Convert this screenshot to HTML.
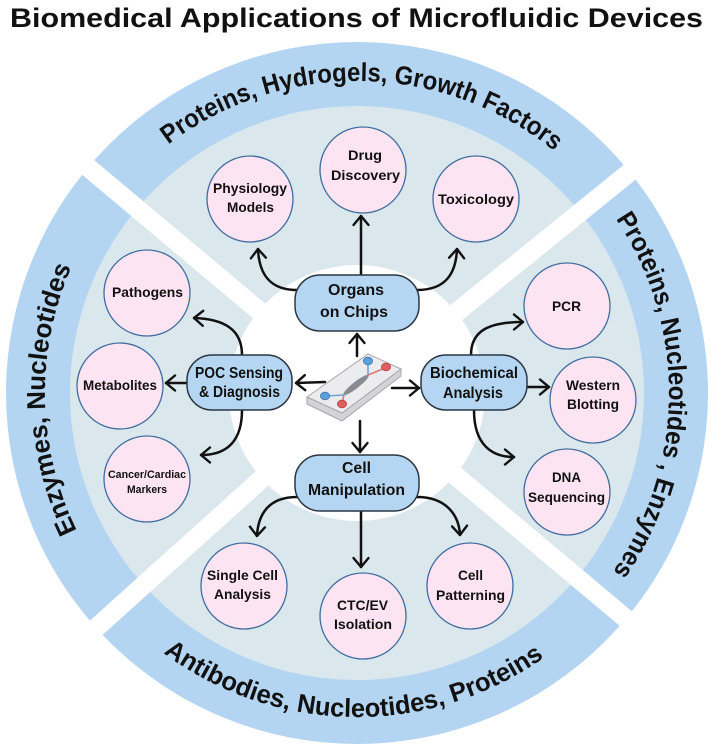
<!DOCTYPE html>
<html><head><meta charset="utf-8"><style>
html,body{margin:0;padding:0;background:#fff;}
svg{display:block;}
text{font-family:"Liberation Sans",Arial,sans-serif;font-weight:bold;fill:#111;}
</style></head><body>
<svg width="711" height="746" viewBox="0 0 711 746" xmlns="http://www.w3.org/2000/svg">
<defs>
<marker id="ah" viewBox="-1 -10 13 20" refX="10" refY="0" markerWidth="13" markerHeight="20" markerUnits="userSpaceOnUse" orient="auto">
<path d="M1,-7.5 L10,0 L1,7.5" fill="none" stroke="#111" stroke-width="2.4" stroke-linecap="round" stroke-linejoin="round"/>
</marker>
<path id="pTop" d="M89.6,232.3 A312,312 0 0 1 629.9,241.7"/>
<path id="pRight" d="M515.3,124.2 A312,312 0 0 1 510.6,664.6"/>
<path id="pLeft" d="M206.7,666.4 A312,312 0 0 1 195.4,126.1"/>
<path id="pBottom" d="M74.4,551.6 A324,324 0 0 0 635.6,558.4"/>
</defs>

<!-- title -->
<text x="10" y="27" font-size="27" textLength="693" lengthAdjust="spacingAndGlyphs">Biomedical Applications of Microfluidic Devices</text>

<!-- rings -->
<circle cx="357" cy="393" r="351" fill="#b4d5f1"/>
<circle cx="357" cy="393" r="287" fill="#dae8ee"/>
<circle cx="357" cy="393" r="128" fill="#ffffff"/>
<g stroke="#fff" stroke-width="19">
<line x1="357" y1="393" x2="50.6" y2="135.9"/>
<line x1="357" y1="393" x2="667.8" y2="141.3"/>
<line x1="357" y1="393" x2="59.8" y2="660.6"/>
<line x1="357" y1="393" x2="663.4" y2="650.1"/>
</g>

<!-- ring texts -->
<text font-size="26"><textPath href="#pTop" startOffset="50%" text-anchor="middle" textLength="416" lengthAdjust="spacingAndGlyphs">Proteins, Hydrogels, Growth Factors</textPath></text>
<text font-size="26"><textPath href="#pRight" startOffset="50%" text-anchor="middle" textLength="375" lengthAdjust="spacingAndGlyphs">Proteins, Nucleotides , Enzymes</textPath></text>
<text font-size="26"><textPath href="#pLeft" startOffset="50%" text-anchor="middle" textLength="272" lengthAdjust="spacingAndGlyphs">Enzymes, Nucleotides</textPath></text>
<text font-size="26"><textPath href="#pBottom" startOffset="50%" text-anchor="middle" textLength="407" lengthAdjust="spacingAndGlyphs">Antibodies, Nucleotides, Proteins</textPath></text>

<!-- pink circles -->
<g fill="#fde4f2" stroke="#3f6d9e" stroke-width="1.3">
<circle cx="250" cy="199" r="43"/>
<circle cx="363" cy="170" r="43"/>
<circle cx="476" cy="199" r="43"/>
<circle cx="147" cy="293" r="43"/>
<circle cx="120" cy="386" r="43"/>
<circle cx="147" cy="479" r="43"/>
<circle cx="567" cy="306" r="43"/>
<circle cx="593" cy="400" r="43"/>
<circle cx="567" cy="492" r="43"/>
<circle cx="244" cy="586" r="43"/>
<circle cx="363" cy="616" r="43"/>
<circle cx="470" cy="586" r="43"/>
</g>

<!-- circle labels -->
<g font-size="14" text-anchor="middle">
<text x="250" y="193" textLength="74" lengthAdjust="spacingAndGlyphs">Physiology</text>
<text x="250.5" y="212" textLength="47" lengthAdjust="spacingAndGlyphs">Models</text>
<text x="365" y="160" textLength="34" lengthAdjust="spacingAndGlyphs">Drug</text>
<text x="365.5" y="180" textLength="69" lengthAdjust="spacingAndGlyphs">Discovery</text>
<text x="476" y="204" textLength="76" lengthAdjust="spacingAndGlyphs">Toxicology</text>
<text x="147.5" y="297" textLength="71" lengthAdjust="spacingAndGlyphs">Pathogens</text>
<text x="120" y="390" textLength="74" lengthAdjust="spacingAndGlyphs">Metabolites</text>
<text x="566.5" y="311" textLength="29" lengthAdjust="spacingAndGlyphs">PCR</text>
<text x="593" y="390" textLength="54" lengthAdjust="spacingAndGlyphs">Western</text>
<text x="593" y="409" textLength="52" lengthAdjust="spacingAndGlyphs">Blotting</text>
<text x="566.5" y="482" textLength="29" lengthAdjust="spacingAndGlyphs">DNA</text>
<text x="566.5" y="502" textLength="77" lengthAdjust="spacingAndGlyphs">Sequencing</text>
<text x="242.5" y="580" textLength="71" lengthAdjust="spacingAndGlyphs">Single Cell</text>
<text x="242.5" y="599" textLength="57" lengthAdjust="spacingAndGlyphs">Analysis</text>
<text x="362.5" y="610" textLength="51" lengthAdjust="spacingAndGlyphs">CTC/EV</text>
<text x="363" y="629" textLength="58" lengthAdjust="spacingAndGlyphs">Isolation</text>
<text x="470.5" y="580" textLength="25" lengthAdjust="spacingAndGlyphs">Cell</text>
<text x="470.5" y="600" textLength="69" lengthAdjust="spacingAndGlyphs">Patterning</text>
</g>
<g font-size="11" text-anchor="middle">
<text x="147" y="478" textLength="78" lengthAdjust="spacingAndGlyphs">Cancer/Cardiac</text>
<text x="147" y="493" textLength="40" lengthAdjust="spacingAndGlyphs">Markers</text>
</g>

<!-- connectors -->
<g fill="none" stroke="#111" stroke-width="2.5" stroke-linecap="round" marker-end="url(#ah)">
<path d="M361,275 L361,216"/>
<path d="M297,290 C268,290 259,272 258,249"/>
<path d="M417,290 C447,290 456,272 457,249"/>
<path d="M242,355 C242,330 225,319 194,318"/>
<path d="M187,383 L166,383"/>
<path d="M242,410 C242,440 228,455 201,455"/>
<path d="M471,355 C471,330 490,322 523,322"/>
<path d="M527,387 L549,387"/>
<path d="M474,410 C474,445 492,457 514,457"/>
<path d="M297,497 C268,497 258,515 257,536"/>
<path d="M361,511 L361,567"/>
<path d="M417,497 C446,497 459,515 460,535"/>
<path d="M357,356 L357,334"/>
<path d="M325,382 L296,383"/>
<path d="M392,388 L419,388"/>
<path d="M360,421 L360,452"/>
</g>

<!-- boxes -->
<g fill="#b5d6f2" stroke="#2b3642" stroke-width="1.5">
<rect x="295" y="275" width="124" height="56" rx="25"/>
<rect x="187" y="355" width="105" height="55" rx="25"/>
<rect x="421" y="355" width="106" height="55" rx="25"/>
<rect x="295" y="455" width="124" height="56" rx="25"/>
</g>
<g font-size="15.5" text-anchor="middle">
<text x="356" y="295" textLength="56" lengthAdjust="spacingAndGlyphs">Organs</text>
<text x="354" y="317" textLength="68" lengthAdjust="spacingAndGlyphs">on Chips</text>
<text x="239" y="378" textLength="88" lengthAdjust="spacingAndGlyphs">POC Sensing</text>
<text x="239.5" y="397" textLength="81" lengthAdjust="spacingAndGlyphs">&amp; Diagnosis</text>
<text x="474" y="378" textLength="88" lengthAdjust="spacingAndGlyphs">Biochemical</text>
<text x="473" y="398" textLength="60" lengthAdjust="spacingAndGlyphs">Analysis</text>
<text x="356.5" y="473" textLength="29" lengthAdjust="spacingAndGlyphs">Cell</text>
<text x="356.5" y="495" textLength="97" lengthAdjust="spacingAndGlyphs">Manipulation</text>
</g>

<!-- chip -->
<g>
<polygon points="307,397 342,413 401,369 401,376 342,421 307,404" fill="#d4d4d8" stroke="#a7a7ad" stroke-width="1"/>
<polygon points="307,397 368,354 401,369 342,413" fill="#ececef" stroke="#a7a7ad" stroke-width="1"/>
<ellipse cx="356" cy="385" rx="16" ry="3.2" transform="rotate(-38 356 385)" fill="#8a8a93"/>
<g stroke-width="1.6" fill="none">
<path d="M368,375 L368,362" stroke="#6aa6d6"/>
<path d="M368,375 L385,368" stroke="#d97a7a"/>
<path d="M344,395 L326,396" stroke="#6aa6d6"/>
<path d="M344,395 L342,403" stroke="#d97a7a"/>
</g>
<ellipse cx="368" cy="361" rx="4.6" ry="3.8" fill="#5a9fd8" stroke="#3c78b0" stroke-width="0.8"/>
<ellipse cx="386" cy="367" rx="4.6" ry="3.8" fill="#e05e5e" stroke="#b54545" stroke-width="0.8"/>
<ellipse cx="325" cy="396" rx="4.6" ry="3.8" fill="#5a9fd8" stroke="#3c78b0" stroke-width="0.8"/>
<ellipse cx="342" cy="404" rx="4.6" ry="3.8" fill="#e05e5e" stroke="#b54545" stroke-width="0.8"/>
</g>
</svg>
</body></html>
